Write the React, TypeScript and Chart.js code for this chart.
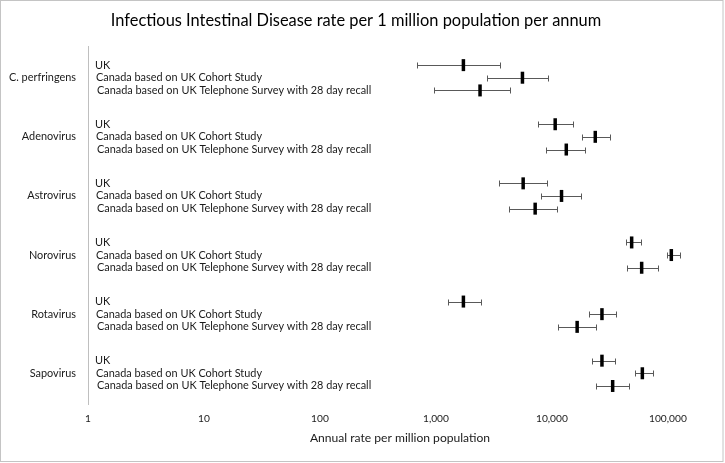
import React, { useEffect, useRef } from "react";
import { Chart, registerables } from "chart.js";

Chart.register(...registerables);

const categories = ["C. perfringens", "Adenovirus", "Astrovirus", "Norovirus", "Rotavirus", "Sapovirus"];
const seriesNames = [
  "UK",
  "Canada based on UK Cohort Study",
  "Canada based on UK Telephone Survey with 28 day recall",
];

const ukMid = [1725, 10670, 5650, 48700, 1725, 27000];
const ukLow = [690, 7570, 3490, 43200, 1260, 22300];
const ukHigh = [3560, 15200, 8980, 58200, 2440, 34700];

const cohortMid = [5570, 23650, 12100, 107000, 27000, 60200];
const cohortLow = [2750, 18150, 7980, 98400, 20700, 51700];
const cohortHigh = [9290, 31400, 17700, 128000, 35400, 74500];

const telMid = [2400, 13300, 7170, 59400, 16500, 33400];
const telLow = [970, 8870, 4250, 44700, 11200, 24200];
const telHigh = [4370, 19400, 11100, 82300, 24000, 46200];

const xTicks = [1, 10, 100, 1000, 10000, 100000];

const FONT = "Lato";
const rowOffsets = [-0.213, 0, 0.215];

export default function App() {
  const ref = useRef<HTMLCanvasElement>(null);

  useEffect(() => {
    document.body.style.margin = "0";
    const canvas = ref.current!;
    const mids = [ukMid, cohortMid, telMid];
    const lows = [ukLow, cohortLow, telLow];
    const highs = [ukHigh, cohortHigh, telHigh];

    const datasets = mids.map((mid, s) => ({
      label: seriesNames[s],
      data: categories.map((_, i) => ({ x: mid[i], y: i + rowOffsets[s] })),
      errLow: lows[s],
      errHigh: highs[s],
      pointStyle: "line" as const,
      rotation: 90,
      radius: 6,
      borderWidth: 3.5,
      borderColor: "#000",
      backgroundColor: "#000",
      showLine: false,
    }));

    const extras = {
      id: "extras",
      beforeDraw(chart: any) {
        const ctx = chart.ctx;
        ctx.save();
        ctx.fillStyle = "#fff";
        ctx.fillRect(0, 0, chart.width, chart.height);
        ctx.strokeStyle = "#c4c4c4";
        ctx.lineWidth = 1;
        ctx.strokeRect(0.5, 0.5, 722.5 - 0.5 + 0.5, 461);
        ctx.restore();
      },
      beforeDatasetsDraw(chart: any) {
        const ctx = chart.ctx;
        const xs = chart.scales.x;
        const ys = chart.scales.y;
        const left = chart.chartArea.left;
        ctx.save();
        ctx.font = `10.9px ${FONT}`;
        ctx.fillStyle = "#1a1a1a";
        ctx.textAlign = "left";
        ctx.textBaseline = "middle";
        categories.forEach((_, i) => {
          seriesNames.forEach((name, s) => {
            const y = ys.getPixelForValue(i + rowOffsets[s]);
            ctx.fillText(name, left + 7 + s, y);
          });
        });
        chart.data.datasets.forEach((ds: any) => {
          ctx.strokeStyle = "#595959";
          ctx.lineWidth = 1;
          ds.data.forEach((pt: any, i: number) => {
            const y = Math.round(ys.getPixelForValue(pt.y)) + 0.5;
            const x1 = Math.round(xs.getPixelForValue(ds.errLow[i])) + 0.5;
            const x2 = Math.round(xs.getPixelForValue(ds.errHigh[i])) + 0.5;
            ctx.beginPath();
            ctx.moveTo(x1, y);
            ctx.lineTo(x2, y);
            ctx.moveTo(x1, y - 3);
            ctx.lineTo(x1, y + 3);
            ctx.moveTo(x2, y - 3);
            ctx.lineTo(x2, y + 3);
            ctx.stroke();
          });
        });
        ctx.restore();
      },
    };

    const chart = new Chart(canvas, {
      type: "scatter",
      data: { datasets: datasets as any },
      plugins: [extras],
      options: {
        animation: false,
        responsive: false,
        layout: { padding: { left: 0, right: 13, top: 0, bottom: 0 } },
        plugins: {
          legend: { display: false },
          tooltip: { enabled: false },
          title: {
            display: true,
            text: "Infectious Intestinal Disease rate per 1 million population per annum",
            font: { family: FONT, size: 16.4, weight: "normal" },
            color: "#000",
            padding: { top: 10.5, bottom: 16.8 },
          },
        },
        scales: {
          x: {
            type: "logarithmic",
            min: 1,
            max: 240000,
            afterBuildTicks: (scale: any) => {
              scale.ticks = xTicks.map((v) => ({ value: v }));
            },
            afterFit: (scale: any) => {
              scale.height = 59;
            },
            ticks: {
              autoSkip: false,
              maxRotation: 0,
              padding: 9,
              color: "#1a1a1a",
              font: { family: FONT, size: 10.2 },
              callback: (v: any) => Number(v).toLocaleString("en-US"),
            },
            grid: { display: false, drawTicks: false },
            border: { display: false },
            title: {
              display: true,
              text: "Annual rate per million population",
              color: "#1a1a1a",
              font: { family: FONT, size: 12.1 },
              padding: { top: 0, bottom: 17.5 },
            },
          },
          y: {
            type: "linear",
            reverse: true,
            min: -0.52,
            max: 5.52,
            afterBuildTicks: (scale: any) => {
              scale.ticks = categories.map((_, i) => ({ value: i }));
            },
            afterFit: (scale: any) => {
              scale.width = 88;
            },
            ticks: {
              autoSkip: false,
              padding: 12,
              color: "#1a1a1a",
              font: { family: FONT, size: 10.9 },
              callback: (v: any) => categories[v as number] ?? "",
            },
            grid: { display: false, drawTicks: false },
            border: { display: true, color: "#bfbfbf", width: 1 },
          },
        },
      },
    });
    return () => chart.destroy();
  }, []);

  return (
    <div style={{ width: 725, height: 463 }}>
      <canvas ref={ref} width={725} height={463} style={{ display: "block" }} />
    </div>
  );
}
